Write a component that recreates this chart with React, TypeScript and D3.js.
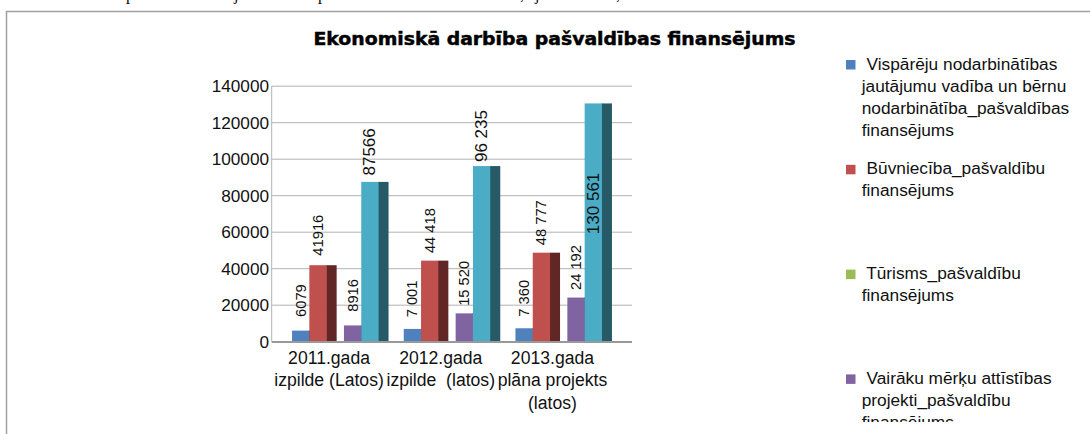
import React from "react";
import * as d3 from "d3";

const categoryLines: string[][] = [
  ["2011.gada", "izpilde (Latos)"],
  ["2012.gada", "izpilde  (latos)"],
  ["2013.gada", "plāna projekts", "(latos)"],
];
const categories = categoryLines.map((l) => l.join(" "));
const groupWithSpace = [false, true, true];

const seriesKeys = ["vispareju", "buvnieciba", "turisms", "vairaku", "cits"];
const legendLines: string[][] = [
  ["Vispārēju nodarbinātības", "jautājumu vadība un bērnu", "nodarbinātība_pašvaldības", "finansējums"],
  ["Būvniecība_pašvaldību", "finansējums"],
  ["Tūrisms_pašvaldību", "finansējums"],
  ["Vairāku mērķu attīstības", "projekti_pašvaldību", "finansējums"],
  ["Citi_pašvaldību", "finansējums"],
];
const vispareju = [6079, 7001, 7360];
const buvnieciba = [41916, 44418, 48777];
const turisms: (number | null)[] = [null, null, null];
const vairaku = [8916, 15520, 24192];
const cits = [87566, 96235, 130561];
const seriesValues: (number | null)[][] = [vispareju, buvnieciba, turisms, vairaku, cits];

const frontColors = ["#4f81bd", "#c0504d", "#9bbb59", "#8064a2", "#4bacc6"];
const sideColors = ["#2c4d75", "#612726", "#5f7530", "#3f3151", "#265a66"];
const labelSizes = [14.7, 14.7, 14.7, 14.7, 17];

const yTicks = [0, 20000, 40000, 60000, 80000, 100000, 120000, 140000];

const FONT = "'Liberation Sans', Arial, sans-serif";

export default function App() {
  const plotLeft = 271.7;
  const plotRight = 632;
  const plotTop = 86.2;
  const plotBottom = 341.7;

  const y = d3.scaleLinear().domain([0, 140000]).range([plotBottom, plotTop]);
  const x0 = d3.scaleBand<string>().domain(categories).range([273.2, 608.3]).padding(0);
  const x1 = d3.scaleBand<string>().domain(seriesKeys).range([0, 86.5]).padding(0);
  const sideW = 10;
  const groupOffset = -37;

  const fmtPlain = d3.format("d");
  const fmtGroup = (v: number) => d3.format(",")(v).replace(/,/g, " ");

  const bars: React.ReactNode[] = [];
  const labels: React.ReactNode[] = [];
  categories.forEach((c, ci) => {
    const center = (x0(c) as number) + x0.bandwidth() / 2;
    seriesKeys.forEach((s, si) => {
      const v = seriesValues[si][ci];
      if (v === null || v === undefined) return;
      const bx = center + groupOffset + (x1(s) as number);
      const bw = x1.bandwidth();
      const top = y(v);
      bars.push(
        <g key={`b-${ci}-${si}`}>
          <rect x={bx + bw - 0.5} y={top} width={sideW + 0.5} height={plotBottom - top} fill={sideColors[si]} />
          <rect x={bx} y={top} width={bw} height={plotBottom - top} fill={frontColors[si]} />
        </g>
      );
      const txt = groupWithSpace[ci] ? fmtGroup(v) : fmtPlain(v);
      const fs = labelSizes[si];
      const approxLen = txt.length * fs * 0.53;
      let cy = top - 30;
      if (cy - approxLen / 2 < plotTop - 40) cy = top + 100;
      const cx = bx + bw / 2;
      labels.push(
        <text
          key={`l-${ci}-${si}`}
          transform={`translate(${cx},${cy}) rotate(-90)`}
          textAnchor="middle"
          dominantBaseline="central"
          fontSize={fs}
          fontFamily={FONT}
          fill="#111"
          style={{ whiteSpace: "pre" }}
        >
          {txt}
        </text>
      );
    });
  });

  const topGlyphs: [string, number][] = [
    ["p", 126],
    ["j", 234],
    ["p", 318],
    [",", 520],
    ["j", 535],
    [",", 616],
  ];

  return (
    <svg
      width={1090}
      height={434}
      style={{ position: "absolute", left: 0, top: 0, background: "#fff" }}
    >
      <defs>
        <clipPath id="legendClip">
          <rect x={0} y={0} width={1090} height={422} />
        </clipPath>
      </defs>
      {topGlyphs.map(([g, x], i) => (
        <text key={`tg${i}`} x={x} y={0} fontFamily="'Liberation Serif', serif" fontSize={16} fill="#000">
          {g}
        </text>
      ))}
      <rect x={6.5} y={11.5} width={1200} height={500} fill="none" stroke="#a0a0a0" strokeWidth={1.5} />

      <text
        x={313.5}
        y={44.5}
        fontFamily="'DejaVu Sans', sans-serif"
        fontWeight="bold"
        fontSize={18}
        textLength={482}
        lengthAdjust="spacingAndGlyphs"
        fill="#000"
        stroke="#000"
        strokeWidth={0.5}
      >
        Ekonomiskā darbība pašvaldības finansējums
      </text>

      {yTicks.map((t) => (
        <g key={`yt${t}`}>
          {t !== 0 && (
            <line x1={plotLeft} x2={plotRight} y1={y(t)} y2={y(t)} stroke="#b3b3b3" strokeWidth={1} />
          )}
          <text
            x={269}
            y={y(t)}
            textAnchor="end"
            dominantBaseline="central"
            fontFamily={FONT}
            fontSize={17.2}
            fill="#111"
          >
            {t}
          </text>
        </g>
      ))}
      <line x1={plotLeft} x2={plotLeft} y1={plotTop} y2={plotBottom} stroke="#b3b3b3" strokeWidth={1} />

      {bars}
      <line x1={plotLeft} x2={plotRight} y1={plotBottom + 0.3} y2={plotBottom + 0.3} stroke="#999" strokeWidth={1.8} />
      {labels}

      {categories.map((c, ci) => {
        const center = (x0(c) as number) + x0.bandwidth() / 2;
        return (
          <text
            key={`cat${ci}`}
            textAnchor="middle"
            fontFamily={FONT}
            fontSize={17.6}
            fill="#111"
            style={{ whiteSpace: "pre" }}
          >
            {categoryLines[ci].map((line, li) => (
              <tspan key={li} x={center} y={363.5 + li * 22.5}>
                {line}
              </tspan>
            ))}
          </text>
        );
      })}

      <g clipPath="url(#legendClip)">
        {legendLines.map((lines, i) => {
          const top = 60 + i * 104.8;
          return (
            <g key={`lg${i}`}>
              <rect x={846} y={top} width={9.5} height={9.5} fill={frontColors[i]} />
              <text fontFamily={FONT} fontSize={17.3} fill="#111" style={{ whiteSpace: "pre" }}>
                {lines.map((line, li) => (
                  <tspan key={li} x={861.7} y={top + 9.5 + li * 22}>
                    {li === 0 ? " " + line : line}
                  </tspan>
                ))}
              </text>
            </g>
          );
        })}
      </g>
    </svg>
  );
}
